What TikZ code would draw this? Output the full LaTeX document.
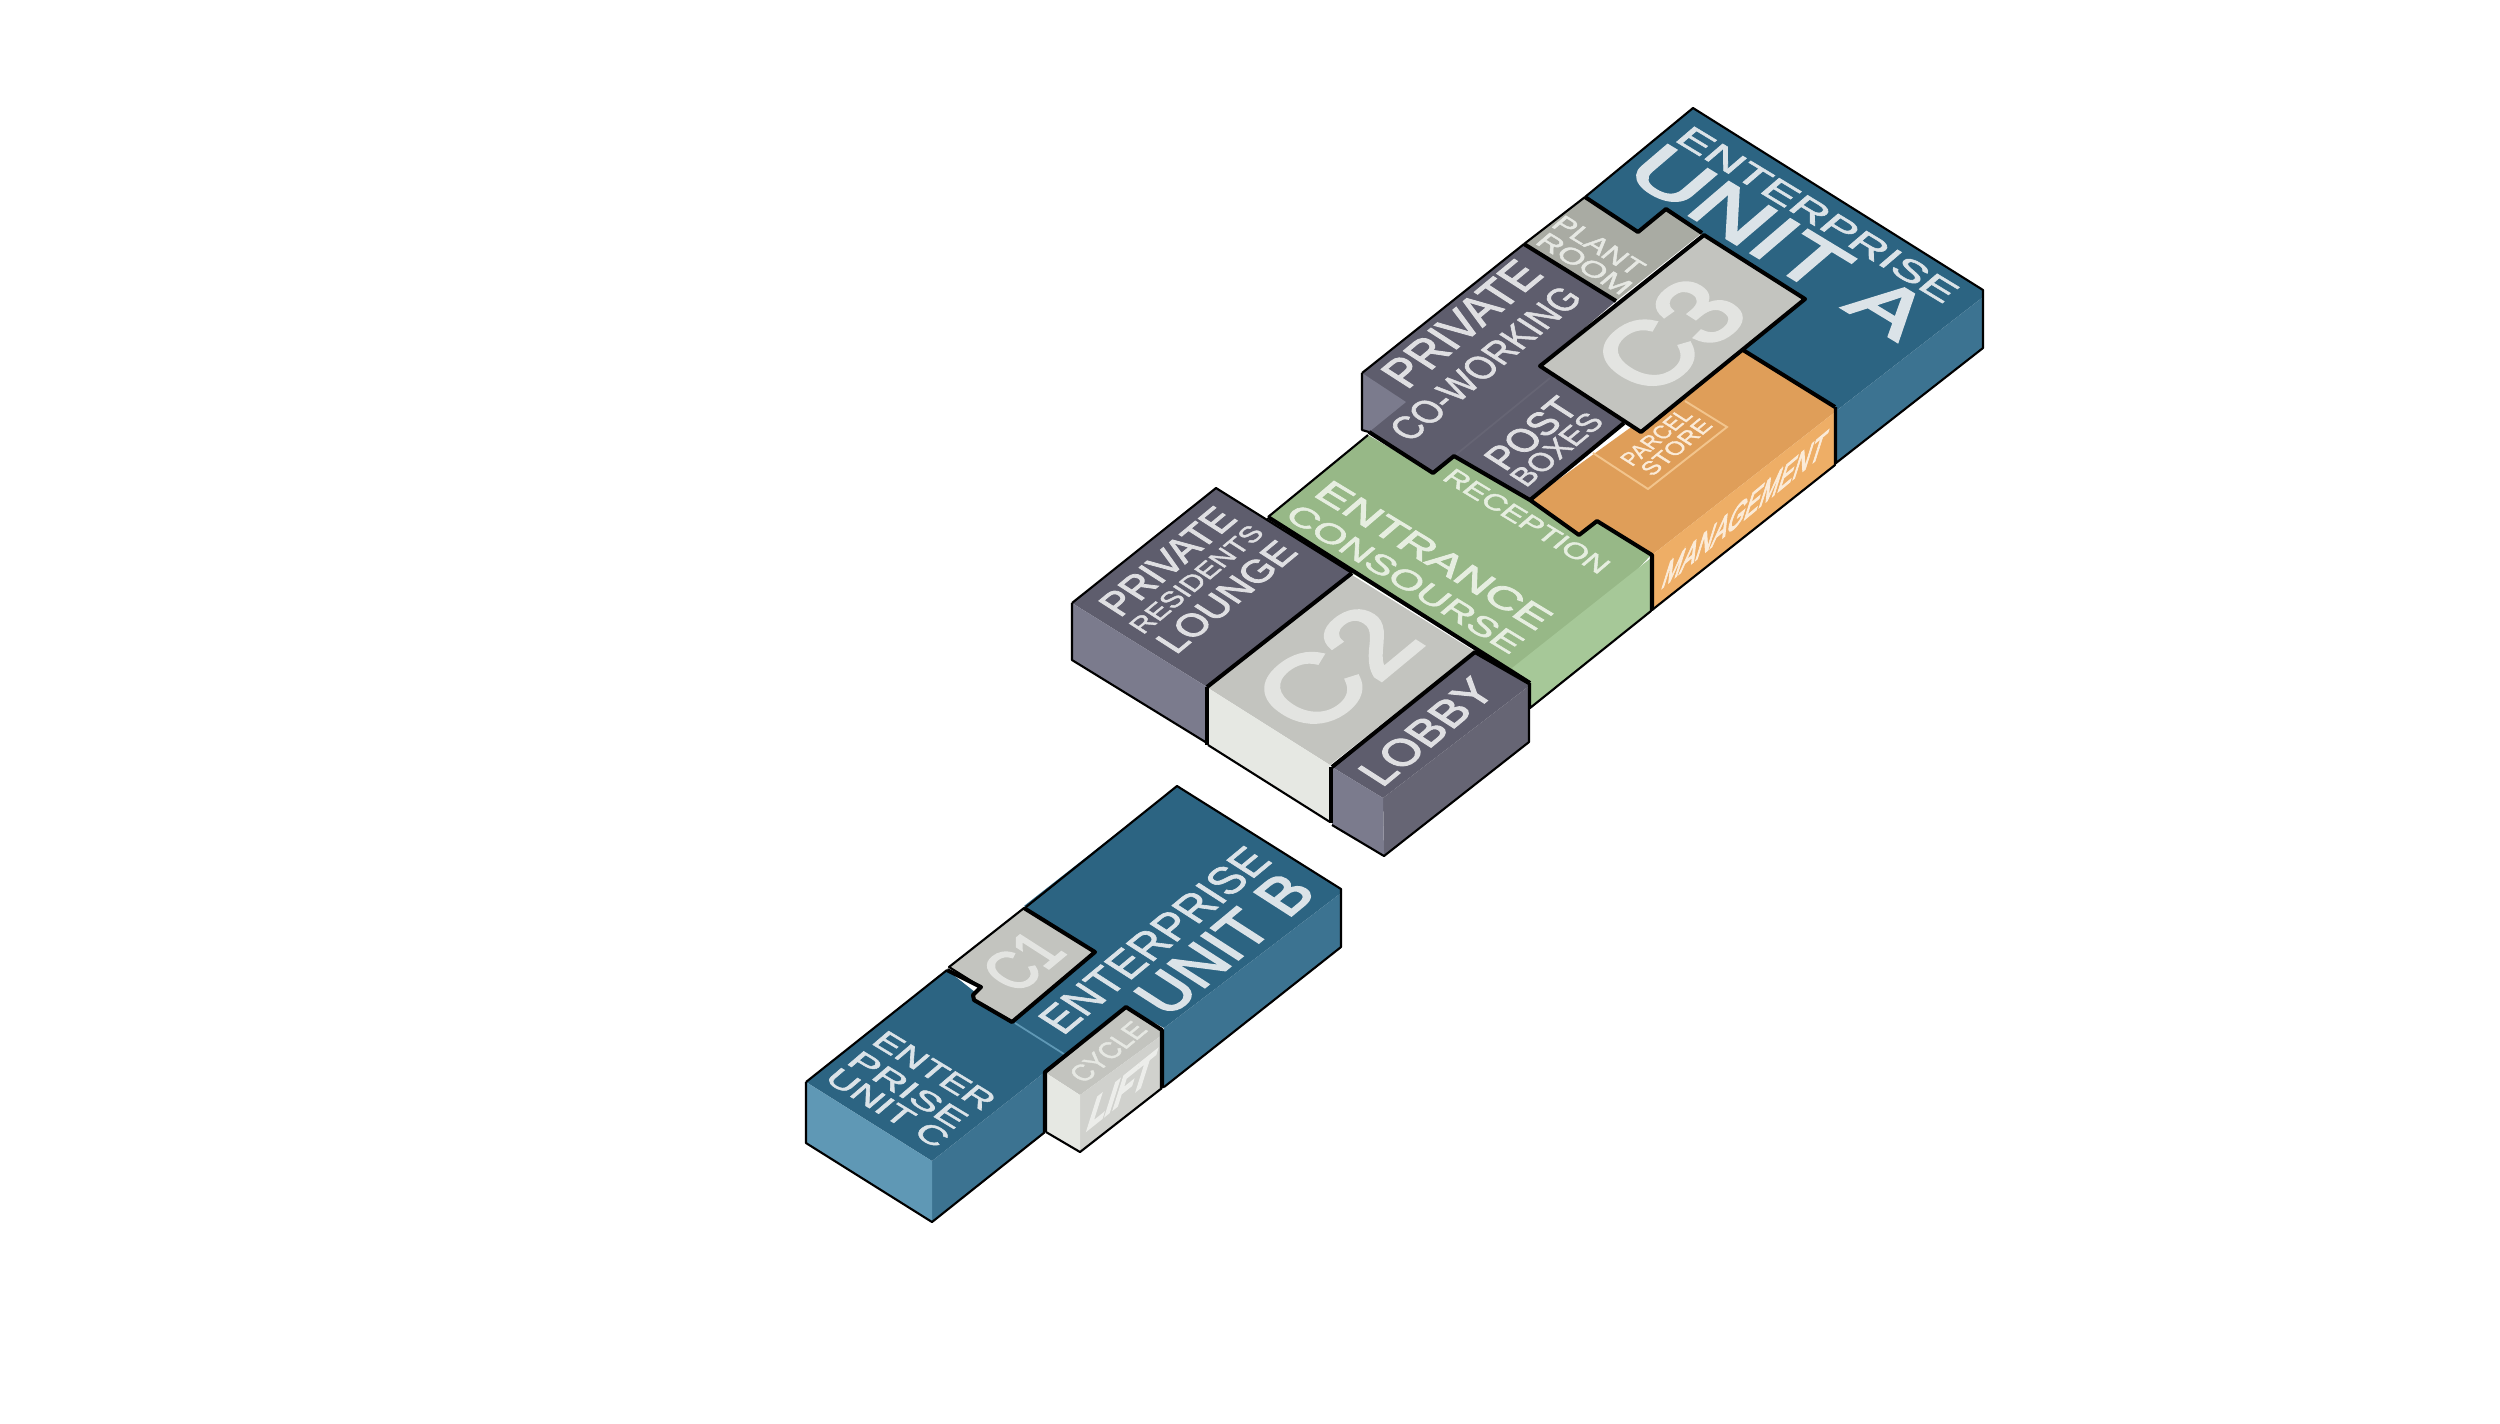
\documentclass[tikz,border=0pt]{standalone}
\usepackage{fontspec}
\setmainfont{Liberation Sans}
\newfontfamily\regf{Liberation Sans}[FakeBold=1.6]
\newfontfamily\midf{Liberation Sans}[FakeBold=2.4]
\newfontfamily\medf{Liberation Sans}[FakeBold=3.2]
\newfontfamily\skewf{Liberation Sans}[FakeBold=4]
\newfontfamily\hvf{Liberation Sans Bold}[FakeBold=5]
\newlength\pxu \setlength\pxu{0.01cm}
\definecolor{bluetop}{HTML}{2C6482}
\definecolor{blueside}{HTML}{3C7391}
\definecolor{blueleft}{HTML}{5F98B5}
\definecolor{bluetxt}{HTML}{DBE3E8}
\definecolor{purptop}{HTML}{5E5D6D}
\definecolor{purpleft}{HTML}{7B7B8D}
\definecolor{purpside}{HTML}{666574}
\definecolor{purptxt}{HTML}{DFDFE2}
\definecolor{planttop}{HTML}{A9ABA3}
\definecolor{coretop}{HTML}{C3C4BF}
\definecolor{coretxt}{HTML}{E3E4E1}
\definecolor{coreleft}{HTML}{E6E8E3}
\definecolor{coreside}{HTML}{D0D1CD}
\definecolor{lifttxt}{HTML}{ECEDEA}
\definecolor{greentop}{HTML}{97B887}
\definecolor{greenside}{HTML}{A6C898}
\definecolor{greentxt}{HTML}{E6EEE0}
\definecolor{orangetop}{HTML}{DF9E59}
\definecolor{orangeside}{HTML}{EEAE66}
\definecolor{orangeline}{HTML}{F2C48C}
\definecolor{orangetxt}{HTML}{FBEBD8}
\tikzset{
  x=0.01cm,y=-0.01cm,
  edge/.style={draw=black,line width=0.6pt,line join=round},
  heavy/.style={draw=black,line width=1.15pt,line join=round},
  txt/.style={inner sep=0pt,outer sep=0pt,anchor=base west,transform shape},
  dirA/.style={cm={.855,-.518,.76,.65,(0,0)}},
  dirB/.style={cm={.77,.638,-.84,.54,(0,0)}},
  dirM/.style={cm={.77,.64,.3,.95,(0,0)}},
  dirL/.style={cm={.78,.625,.3,.95,(0,0)}},
}
\newcommand{\isotext}[8]{%
  \begin{scope}[shift={(#3,#4)},#1]
    \node[txt,text=#7] (#2) at (0,0) {\resizebox{#5\pxu}{#6\pxu}{\regf #8}};
  \end{scope}}
\begin{document}
\begin{tikzpicture}
\useasboundingbox[fill=white] (0,0) rectangle (2500,1423);

% --- Unit A
\fill[bluetop] (1693,108) -- (1983,290) -- (1983,297) -- (1836,411) -- (1836,407) -- (1743,350) -- (1805,299) -- (1704,235) -- (1666,209) -- (1638,232) -- (1585,197) -- cycle;
\fill[blueside] (1983,297) -- (1983,348) -- (1836,463) -- (1836,411) -- cycle;
\draw[edge] (1585,197) -- (1693,108) -- (1983,290) -- (1983,348) -- (1836,463) -- (1836,407);

% --- Orange management
\fill[orangetop] (1743,350) -- (1835,407) -- (1835,412) -- (1652,555) -- (1597,521) -- (1579,535) -- (1530,500) -- (1641,420) -- cycle;
\fill[orangeside] (1835,412) -- (1835,465) -- (1652,610) -- (1652,555) -- cycle;
\draw[edge] (1835,407) -- (1835,465) -- (1652,610) -- (1652,555);
\draw[orangeline,line width=0.55pt] (1593,453) -- (1648,489) -- (1727,427) -- (1685,401);

% --- Green entrance
\fill[greentop] (1368,435) -- (1433,473) -- (1454,456) -- (1530,500) -- (1579,535) -- (1597,521) -- (1651,555) -- (1530,683) -- (1476,650) -- (1352,573) -- (1268,517) -- cycle;
\fill[greenside] (1651,558) -- (1651,611) -- (1530,708) -- (1530,683) -- (1512,668) -- cycle;
\draw[edge] (1268,517) -- (1368,435);
\draw[edge] (1651,555) -- (1651,611) -- (1530,708) -- (1530,683);

% --- Private co-working / post boxes
\fill[purptop] (1524,244) -- (1616,301) -- (1540,366) -- (1624,423) -- (1528,500) -- (1454,456) -- (1433,473) -- (1369,432) -- (1362,430) -- (1362,373) -- cycle;
\fill[purpleft] (1362,373) -- (1406,402) -- (1369,432) -- (1362,430) -- cycle;
\draw[purpside,line width=0.5pt] (1550,378) -- (1453,457);
\draw[edge] (1362,373) -- (1524,244);
\draw[edge] (1362,373) -- (1362,430) -- (1369,432);

% --- Plant room
\fill[planttop] (1585,197) -- (1638,232) -- (1666,209) -- (1702,233) -- (1616,301) -- (1524,244) -- cycle;
\draw[edge] (1524,244) -- (1585,197);
\draw[heavy] (1524,244) -- (1616,301);
\draw[heavy] (1585,197) -- (1638,232) -- (1666,209) -- (1702,233);

% --- C3 core
\path[fill=coretop,heavy] (1704,235) -- (1805,299) -- (1641,432) -- (1540,366) -- cycle;

% --- heavy boundaries of the upper block
\draw[heavy] (1743,350) -- (1835,407);
\draw[heavy] (1369,432) -- (1433,473) -- (1454,456) -- (1530,500) -- (1579,535) -- (1597,521) -- (1652,555) -- (1652,610);
\draw[heavy] (1530,500) -- (1624,423);

% --- Lounge
\fill[purptop] (1216,488) -- (1352,573) -- (1207,687) -- (1072,603) -- cycle;
\fill[purpleft] (1072,603) -- (1207,687) -- (1207,743) -- (1072,660) -- cycle;
\draw[edge] (1072,603) -- (1216,488) -- (1352,573);
\draw[edge] (1072,603) -- (1072,660) -- (1207,743);

% --- C2 core
\fill[coretop] (1352,575) -- (1474,651) -- (1330,765) -- (1208,688) -- cycle;
\fill[coreleft] (1208,688) -- (1330,765) -- (1330,822) -- (1208,745) -- cycle;
\draw[edge] (1208,745) -- (1330,822);
\draw[heavy] (1207,687) -- (1207,745);
\draw[heavy] (1207,687) -- (1352,573);
\draw[heavy] (1268,517) -- (1530,683);

% --- Lobby
\fill[purptop] (1475,652) -- (1529,683) -- (1529,686) -- (1383,798) -- (1332,767) -- cycle;
\fill[purpside] (1383,798) -- (1529,686) -- (1529,742) -- (1384,856) -- cycle;
\fill[purpleft] (1332,767) -- (1383,798) -- (1384,856) -- (1332,825) -- cycle;
\draw[edge] (1332,825) -- (1384,856) -- (1529,742) -- (1529,683);
\draw[heavy] (1332,767) -- (1475,652) -- (1529,683);
\draw[heavy] (1331,767) -- (1331,823);

% --- Unit B / C
\fill[bluetop] (1177,786) -- (1341,889) -- (1341,893) -- (1164,1028) -- (1126,1007) -- (1045,1072) -- (932,1161) -- (806,1082) -- (947,970) -- (1013,1022) -- (1095,952) -- (1024,906) -- cycle;
\fill[blueside] (1164,1028) -- (1341,893) -- (1341,947) -- (1164,1087) -- cycle;
\fill[blueside] (932,1161) -- (1045,1072) -- (1045,1132) -- (932,1222) -- cycle;
\fill[blueleft] (806,1082) -- (932,1161) -- (932,1222) -- (806,1143) -- cycle;
\draw[edge] (806,1082) -- (947,970);
\draw[edge] (1026,907) -- (1177,786) -- (1341,889) -- (1341,947) -- (1164,1087);
\draw[edge] (806,1082) -- (806,1143) -- (932,1222) -- (1045,1132);
\draw[blueleft,line width=0.5pt] (1015,1023) -- (1064,1054);

% --- C1 core
\path[fill=coretop,edge] (1024,908) -- (1095,952) -- (1012,1022) -- (974,1000) -- (973,995) -- (981,987) -- (949,967) -- cycle;
\draw[heavy] (947,970) -- (981,987) -- (973,995) -- (974,1000) -- (1012,1022) -- (1095,952) -- (1024,908);

% --- Cycle lift
\fill[coretop] (1126,1008) -- (1162,1030) -- (1162,1035) -- (1080,1095) -- (1046,1073) -- cycle;
\fill[coreside] (1080,1095) -- (1162,1035) -- (1162,1088) -- (1080,1152) -- cycle;
\fill[coreleft] (1046,1073) -- (1080,1095) -- (1080,1152) -- (1046,1132) -- cycle;
\draw[edge] (1046,1132) -- (1080,1152) -- (1162,1088);
\draw[heavy] (1045,1132) -- (1045,1072) -- (1126,1007) -- (1162,1030) -- (1162,1088);

% --- Texts
\isotext{dirA}{entA}{1673}{140}{317}{24}{bluetxt}{ENTERPRISE}
\isotext{dirA}{unitA}{1622}{175}{322}{52}{bluetxt}{\medf UNIT A}
\isotext{dirA}{plant}{1550}{226}{98}{18}{coreleft}{PLANT}
\isotext{dirA}{room}{1534}{243}{102}{18}{coreleft}{ROOM}
\isotext{dirB}{privA}{1407}{390}{179}{34}{purptxt}{\midf PRIVATE}
\isotext{dirB}{cowork}{1410}{443}{226}{28}{purptxt}{CO-WORKING}
\isotext{dirB}{post}{1505}{472}{98}{28}{purptxt}{\midf POST}
\isotext{dirB}{boxes}{1526}{488}{103}{22}{purptxt}{BOXES}
\isotext{dirB}{cthree}{1650}{399}{134}{77}{coretxt}{\medf C3}
\isotext{dirB}{parcel}{1632}{467}{80}{16}{orangetxt}{PARCEL}
\isotext{dirB}{store}{1652}{477}{80}{16}{orangetxt}{STORE}
\isotext{dirM}{manage}{1660}{590}{209}{29}{orangetxt}{\skewf MANAGEMENT}
\isotext{dirA}{recep}{1441}{479}{185}{18}{greentxt}{RECEPTION}
\isotext{dirA}{entr}{1312}{495}{263}{25}{greentxt}{\midf ENTRANCE}
\isotext{dirA}{cons}{1283}{517}{266}{22}{greentxt}{CONSOURSE}
\isotext{dirB}{privB}{1120}{618}{154}{28}{purptxt}{\midf PRIVATE}
\isotext{dirB}{resid}{1143}{635}{159}{19}{purptxt}{RESIDENTS}
\isotext{dirB}{loung}{1176}{655}{160}{27}{purptxt}{\midf LOUNGE}
\isotext{dirB}{ctwo}{1312}{738}{150}{80}{coretxt}{\medf C2}
\isotext{dirB}{lobby}{1382}{788}{150}{32}{purptxt}{\midf LOBBY}
\isotext{dirB}{entB}{1063}{1036}{273}{33}{bluetxt}{ENTERPRISE}
\isotext{dirB}{unitB}{1168}{1018}{195}{44}{bluetxt}{\medf UNIT B}
\isotext{dirB}{cone}{1017}{995}{66}{47}{coretxt}{\medf C1}
\isotext{dirA}{enter}{870}{1043}{132}{21}{bluetxt}{ENTER}
\isotext{dirA}{prise}{845}{1063}{129}{21}{bluetxt}{PRISE}
\isotext{dirA}{unitC}{823}{1080}{133}{21}{bluetxt}{UNIT C}
\isotext{dirB}{cycle}{1084}{1084}{84}{20}{coreleft}{CYCLE}
\isotext{dirL}{lift}{1085}{1132}{80}{35}{lifttxt}{\hvf LIFT}
\end{tikzpicture}
\end{document}
